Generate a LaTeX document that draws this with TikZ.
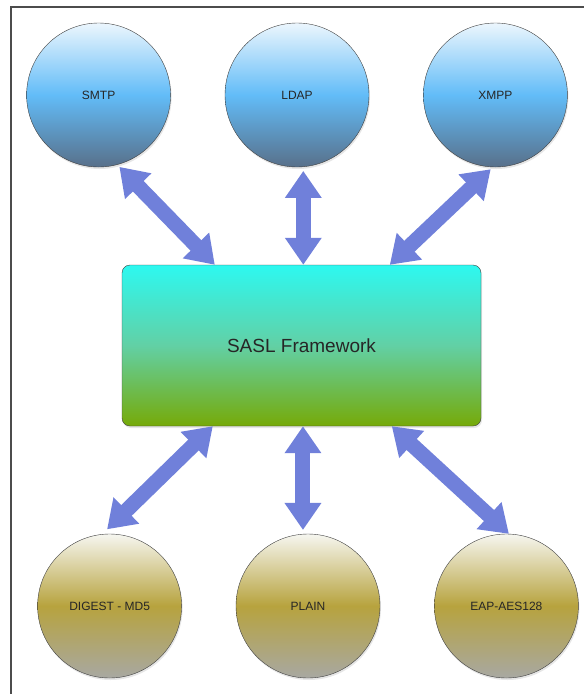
\documentclass[tikz,border=0pt]{standalone}
\usepackage{fontspec}
\setmainfont{Liberation Sans}
\usepackage{tikz}
\usetikzlibrary{arrows.meta, positioning, calc, shadows}
\definecolor{skytop}{RGB}{236, 246, 253}
\definecolor{skymid}{RGB}{98, 188, 248}
\definecolor{skybot}{RGB}{88, 112, 138}
\definecolor{oliveTop}{RGB}{246, 246, 240}
\definecolor{oliveMid}{RGB}{183, 163, 62}
\definecolor{oliveBot}{RGB}{168, 168, 162}
\definecolor{frameTop}{RGB}{45, 248, 240}
\definecolor{frameMid}{RGB}{98, 208, 165}
\definecolor{frameBot}{RGB}{118, 170, 8}
\definecolor{linkblue}{RGB}{112, 128, 218}

\begin{document}
\begin{tikzpicture}[x=1pt, y=-1pt, node distance=54pt,
  every node/.style={circle, draw=black!75, minimum size=144pt, text=black!85, font=\fontsize{12}{14}\selectfont,
    drop shadow={shadow xshift=1pt, shadow yshift=-2pt, opacity=0.2}},
  upper/.style={top color=skytop, bottom color=skybot, middle color=skymid},
  lower/.style={top color=oliveTop, bottom color=oliveBot, middle color=oliveMid},
  link/.style={draw=linkblue, line width=15pt, {Triangle[width=35pt, length=27pt]}-{Triangle[width=35pt, length=27pt]}}]
  \useasboundingbox (0,0) rectangle (584,694);
  \draw[black!70, line width=1.2pt] (11,694) -- (11,7) -- (584,7);
  % protocols
  \node[upper] (ldap) at (297,95) {LDAP}; \node[upper] (smtp) [left=of ldap] {SMTP}; \node[upper] (xmpp) [right=of ldap] {XMPP};
  % framework
  \node[rectangle, rounded corners=8pt, minimum width=359pt, minimum height=161pt, top color=frameTop, bottom color=frameBot, middle color=frameMid,
    font=\fontsize{19}{22}\selectfont] (sasl) at (301.5,345.5) {SASL Framework};
  % mechanisms
  \node[lower] (plain) at (308,606) {PLAIN}; \node[lower] (digest) [left=of plain] {DIGEST - MD5}; \node[lower] (eap) [right=of plain] {EAP-AES128};
  \draw[link, shorten <=3pt] (smtp.-75) -- ([xshift=93pt]sasl.north west);
  \draw[link, shorten <=4pt] (ldap.-85) -- (ldap.-85 |- sasl.north);
  \draw[link, shorten <=3pt] (xmpp.-92) -- ([xshift=268pt]sasl.north west);
  \draw[link, shorten >=7pt] ([xshift=91pt]sasl.south west) -- (digest.96);
  \draw[link, shorten >=4pt] (plain.94 |- sasl.south) -- (plain.94);
  \draw[link] ([xshift=270pt]sasl.south west) -- (eap.88);
\end{tikzpicture}
\end{document}
